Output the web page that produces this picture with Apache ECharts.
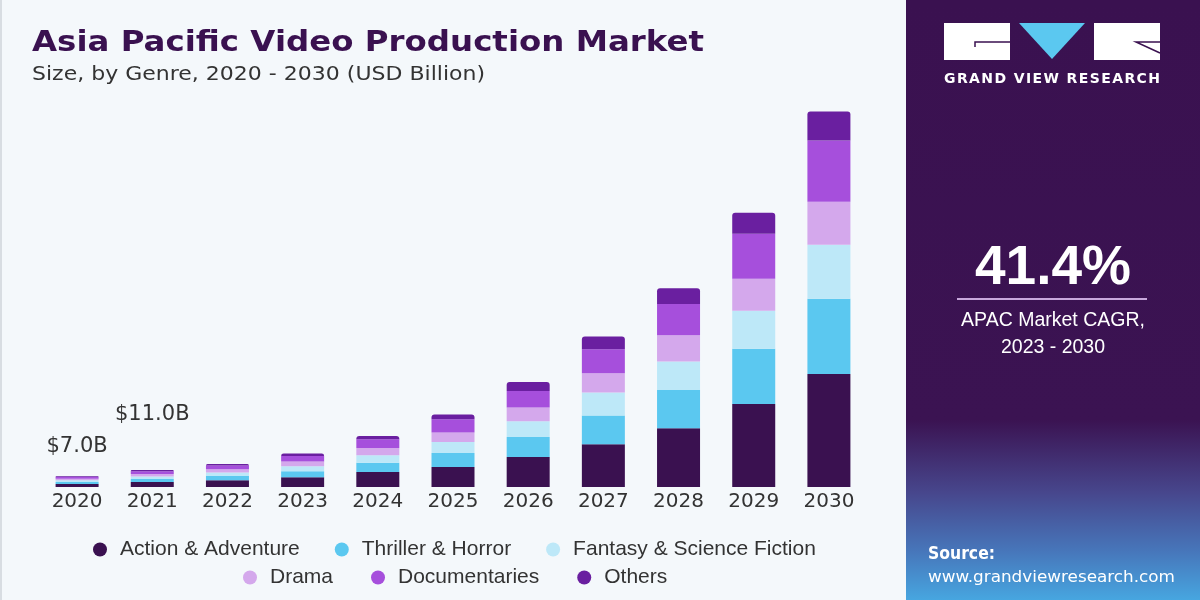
<!DOCTYPE html>
<html>
<head>
<meta charset="utf-8">
<script src="https://cdn.jsdelivr.net/npm/echarts@6/dist/echarts.min.js"></script>
<style>
html,body{margin:0;padding:0;background:#f4f8fb;}
#chart{width:1200px;height:600px;}
</style>
</head>
<body>
<div id="chart"></div>
<script>
// ---- data (USD Billion) ----
const years = ['2020','2021','2022','2023','2024','2025','2026','2027','2028','2029','2030'];
const seriesNames = ['Action & Adventure','Thriller & Horror','Fantasy & Science Fiction','Drama','Documentaries','Others'];
const actionAdventure = [2.0, 3.2, 4.4, 6.3, 9.8, 13.0, 19.5, 27.8, 38.2, 54.0, 73.5];
const thrillerHorror  = [1.3, 2.0, 2.7, 3.9, 5.9, 9.1, 13.0, 18.6, 24.9, 35.8, 48.8];
const fantasySciFi    = [1.05, 1.65, 2.3, 3.3, 5.0, 7.2, 10.2, 15.0, 18.4, 24.7, 35.1];
const drama           = [1.0, 1.55, 2.1, 3.0, 4.7, 6.1, 8.9, 12.6, 17.1, 20.8, 28.0];
const documentaries   = [1.2, 1.85, 2.5, 3.7, 5.7, 8.6, 10.8, 15.6, 20.3, 29.3, 39.7];
const others          = [0.45, 0.75, 1.0, 1.6, 2.1, 3.1, 5.9, 8.2, 10.2, 13.7, 18.9];
const totalLabels = ['$7.0B', '$11.0B'];
const cagrText = '41.4%';
const cagrCaption = 'APAC Market CAGR,\n2023 - 2030';

const colors = ['#3a1150','#5bc8f0','#bde8f8','#d4a8ec','#a64fdc','#6a1fa0'];
const allSeries = [actionAdventure, thrillerHorror, fantasySciFi, drama, documentaries, others];
const labelDist = [19, 45];
const SANS = 'DejaVu Sans, Verdana, sans-serif';

const mctx = document.createElement('canvas').getContext('2d');
function measure(text, font) { mctx.font = font; return mctx.measureText(text).width; }
function fitText(text, font, x, y, targetWidth, fill) {
  const w = measure(text, font);
  return { type: 'text', x: x, y: y, scaleX: targetWidth / w, silent: true,
    style: { text: text, font: font, fill: fill, align: 'left', verticalAlign: 'middle' } };
}
function spacedText(text, font, x0, x1, y, fill) {
  const chars = text.split('');
  const widths = chars.map(c => measure(c, font));
  const total = widths.reduce((a, b) => a + b, 0);
  const gap = (x1 - x0 - total) / (chars.length - 1);
  let x = x0;
  return chars.map((c, i) => {
    const el = { type: 'text', x: x, y: y, silent: true,
      style: { text: c, font: font, fill: fill, align: 'left', verticalAlign: 'middle' } };
    x += widths[i] + gap;
    return el;
  });
}

const series = allSeries.map((arr, si) => {
  const isTop = si === allSeries.length - 1;
  return {
    name: seriesNames[si],
    type: 'bar',
    stack: 'total',
    barWidth: 43,
    itemStyle: { color: colors[si], borderRadius: isTop ? [3,3,0,0] : 0 },
    emphasis: { disabled: true },
    data: arr.map((v, i) => {
      if (isTop && i < totalLabels.length) {
        return {
          value: v,
          label: {
            show: true, position: 'top', distance: labelDist[i],
            formatter: totalLabels[i],
            fontSize: 21, color: '#333', fontFamily: SANS
          }
        };
      }
      return v;
    })
  };
});

const chart = echarts.init(document.getElementById('chart'), null, {renderer: 'canvas'});
const legendText = { fontSize: 21, color: '#333', fontFamily: 'Liberation Sans, Arial, sans-serif', padding: [0,0,0,8] };

chart.setOption({
  backgroundColor: '#f4f8fb',
  animation: false,
  grid: { left: 39.5, right: 333.5, top: 100, bottom: 113, containLabel: false },
  xAxis: {
    type: 'category', data: years,
    axisLine: { show: false }, axisTick: { show: false },
    axisLabel: { fontSize: 20, color: '#333', margin: 5, fontFamily: SANS }
  },
  yAxis: { type: 'value', min: 0, max: 251.5, show: false, splitLine: { show: false } },
  legend: [{
    data: seriesNames.slice(0,3), left: 93, top: 539, padding: 0, icon: 'circle',
    itemWidth: 14, itemHeight: 14, itemGap: 35, textStyle: legendText, selectedMode: false
  }, {
    data: seriesNames.slice(3), left: 243, top: 567, padding: 0, icon: 'circle',
    itemWidth: 14, itemHeight: 14, itemGap: 38, textStyle: legendText, selectedMode: false
  }],
  series: series,
  graphic: [
    { type: 'rect', left: 0, top: 0, shape: { width: 2, height: 600 }, style: { fill: '#d8dde2' }, silent: true },
    fitText('Asia Pacific Video Production Market', 'bold 29px ' + SANS, 32, 43, 672, '#3a1150'),
    fitText('Size, by Genre, 2020 - 2030 (USD Billion)', '19px ' + SANS, 32, 75, 453, '#333333'),
    { type: 'rect', left: 906, top: 0, shape: { width: 294, height: 600 },
      style: { fill: { type: 'linear', x: 0, y: 0, x2: 0, y2: 1, colorStops: [
        { offset: 0, color: '#3a1150' }, { offset: 0.7, color: '#3b1352' },
        { offset: 0.82, color: '#47468c' }, { offset: 0.92, color: '#4777bb' }, { offset: 1, color: '#47a6e0' }] } },
      silent: true },
    // logo
    { type: 'rect', shape: { x: 944, y: 23, width: 66, height: 37 }, style: { fill: '#ffffff' }, silent: true },
    { type: 'polyline', shape: { points: [[975,47],[975,42],[1010,42]] }, style: { stroke: '#3a1150', lineWidth: 1.5, fill: null }, silent: true },
    { type: 'polygon', shape: { points: [[1019,23],[1085,23],[1052,59]] }, style: { fill: '#5bc8f0' }, silent: true },
    { type: 'rect', shape: { x: 1094, y: 23, width: 66, height: 37 }, style: { fill: '#ffffff' }, silent: true },
    { type: 'polyline', shape: { points: [[1160,42],[1136,42],[1160,53]] }, style: { stroke: '#3a1150', lineWidth: 1.5, fill: null }, silent: true },
    ...spacedText('GRAND VIEW RESEARCH', 'bold 14px ' + SANS, 944, 1160, 79, '#ffffff'),
    // CAGR
    { type: 'text', x: 1053, y: 269, silent: true, style: { text: cagrText, fill: '#ffffff', font: 'bold 55px Liberation Sans, Arial, sans-serif', align: 'center', verticalAlign: 'middle' } },
    { type: 'rect', shape: { x: 957, y: 298, width: 190, height: 2 }, style: { fill: '#c8a8dc' }, silent: true },
    { type: 'text', x: 1053, y: 334, silent: true, style: { text: cagrCaption, fill: '#ffffff', font: '19.5px Liberation Sans, Arial, sans-serif', align: 'center', verticalAlign: 'middle', lineHeight: 27 } },
    // source
    fitText('Source:', 'bold 17px ' + SANS, 928, 555, 67, '#ffffff'),
    fitText('www.grandviewresearch.com', '16px ' + SANS, 928, 578, 247, '#ffffff')
  ]
});
</script>
</body>
</html>
